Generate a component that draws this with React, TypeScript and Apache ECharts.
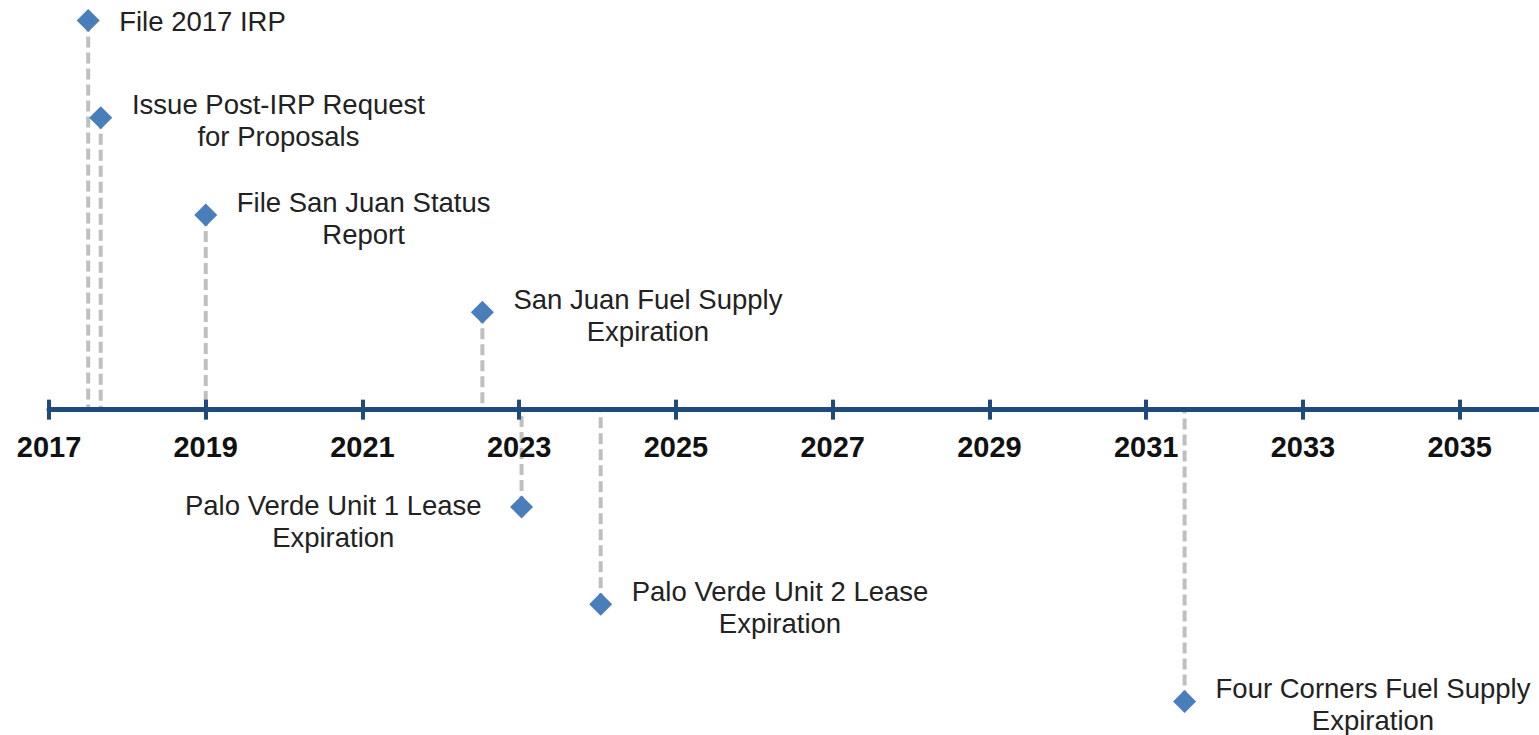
import React, { useEffect, useRef } from "react";
import * as echarts from "echarts";

// ---- data ----
const eventNames: string[] = [
  "File 2017 IRP",
  "Issue Post-IRP Request\nfor Proposals",
  "File San Juan Status\nReport",
  "San Juan Fuel Supply\nExpiration",
  "Palo Verde Unit 1 Lease\nExpiration",
  "Palo Verde Unit 2 Lease\nExpiration",
  "Four Corners Fuel Supply\nExpiration",
];
const eventYears: number[] = [2017.5, 2017.66, 2019.0, 2022.53, 2023.03, 2024.04, 2031.49];
const eventLevels: number[] = [4, 3, 2, 1, -1, -2, -3];
const tickYears: number[] = [2017, 2019, 2021, 2023, 2025, 2027, 2029, 2031, 2033, 2035];
const axisMin = 2017;
const axisMax = 2036;
const levelMin = -3.2;
const levelMax = 4.2;

const LABEL_FONT_SIZE = 27.5;
const LABEL_FONT_FAMILY = "'Liberation Sans', Arial, sans-serif";

function measureWidth(text: string): number {
  const ctx = document.createElement("canvas").getContext("2d");
  if (!ctx) return text.length * 12;
  ctx.font = `${LABEL_FONT_SIZE}px ${LABEL_FONT_FAMILY}`;
  return Math.max(...text.split("\n").map((l) => ctx.measureText(l).width));
}

export default function App() {
  const ref = useRef<HTMLDivElement>(null);

  useEffect(() => {
    if (!ref.current) return;
    const chart = echarts.init(ref.current, null, { renderer: "svg" });

    // layout
    const gridLeft = 49;
    const gridRight = 1;
    const gridTop = 1;
    const gridHeight = 720;
    const zeroY = gridTop + (levelMax / (levelMax - levelMin)) * gridHeight;

    const leftLabeled = new Set(["Palo Verde Unit 1 Lease\nExpiration"]);

    const scatterData = eventNames.map((name, i) => {
      const w = measureWidth(name);
      const multi = name.includes("\n");
      let dx: number;
      let dy: number;
      if (leftLabeled.has(name)) {
        dx = -(40 + w / 2);
        dy = 15;
      } else {
        dx = 31 + w / 2;
        dy = multi ? 3 : 1;
      }
      return {
        name,
        value: [eventYears[i], eventLevels[i]],
        label: { offset: [dx, dy] },
      };
    });

    const lineData = eventYears.map((x, i) => [x, eventLevels[i]]);

    const axisColor = "#1F4A7C";
    const noBounds = { outerBoundsMode: "none", containLabel: false };

    const option: any = {
      animation: false,
      grid: [
        { ...noBounds, left: gridLeft, right: gridRight, top: gridTop, height: gridHeight },
        { ...noBounds, left: gridLeft, right: gridRight, top: gridTop, height: zeroY - gridTop },
        { ...noBounds, left: gridLeft, right: gridRight, top: zeroY, height: gridTop + gridHeight - zeroY },
      ],
      xAxis: [
        {
          gridIndex: 0,
          type: "value",
          min: axisMin,
          max: axisMax,
          show: false,
          splitLine: { show: false },
        },
        {
          gridIndex: 1,
          type: "value",
          min: axisMin,
          max: axisMax,
          z: 3,
          position: "bottom",
          axisLine: { show: true, onZero: false, lineStyle: { color: axisColor, width: 5 } },
          axisTick: {
            show: true,
            length: 10,
            inside: false,
            customValues: tickYears,
            lineStyle: { color: axisColor, width: 4 },
          },
          axisLabel: {
            show: true,
            customValues: tickYears,
            formatter: (v: number) => String(v),
            margin: 23,
            fontSize: 29,
            fontWeight: "bold",
            fontFamily: LABEL_FONT_FAMILY,
            color: "#111111",
          },
          splitLine: { show: false },
        },
        {
          gridIndex: 2,
          type: "value",
          min: axisMin,
          max: axisMax,
          z: 3,
          position: "top",
          axisLine: { show: false, onZero: false },
          axisTick: {
            show: true,
            length: 10,
            inside: false,
            customValues: tickYears,
            lineStyle: { color: axisColor, width: 4 },
          },
          axisLabel: { show: false },
          splitLine: { show: false },
        },
      ],
      yAxis: [
        { gridIndex: 0, type: "value", min: levelMin, max: levelMax, show: false, splitLine: { show: false } },
        { gridIndex: 1, type: "value", min: 0, max: levelMax, show: false, splitLine: { show: false } },
        { gridIndex: 2, type: "value", min: levelMin, max: 0, show: false, splitLine: { show: false } },
      ],
      series: [
        {
          type: "custom",
          xAxisIndex: 0,
          yAxisIndex: 0,
          z: 1,
          clip: false,
          data: lineData,
          renderItem: (params: any, api: any) => {
            const top = api.coord([api.value(0), api.value(1)]);
            const base = api.coord([api.value(0), 0]);
            return {
              type: "line",
              shape: { x1: top[0], y1: top[1], x2: base[0], y2: base[1] },
              style: { stroke: "#BFBFBF", lineWidth: 4, lineDash: [11, 5], fill: null },
            };
          },
        },
        {
          type: "scatter",
          xAxisIndex: 0,
          yAxisIndex: 0,
          z: 4,
          symbol: "diamond",
          symbolSize: 23,
          itemStyle: { color: "#4A7EBB", opacity: 1 },
          data: scatterData,
          label: {
            show: true,
            position: "inside",
            align: "center",
            verticalAlign: "middle",
            formatter: "{b}",
            fontSize: LABEL_FONT_SIZE,
            lineHeight: 32,
            fontFamily: LABEL_FONT_FAMILY,
            color: "#222222",
          },
        },
      ],
    };

    chart.setOption(option);
    return () => chart.dispose();
  }, []);

  return (
    <div
      ref={ref}
      style={{ position: "fixed", left: 0, top: 0, width: 1539, height: 735, background: "#ffffff" }}
    />
  );
}
